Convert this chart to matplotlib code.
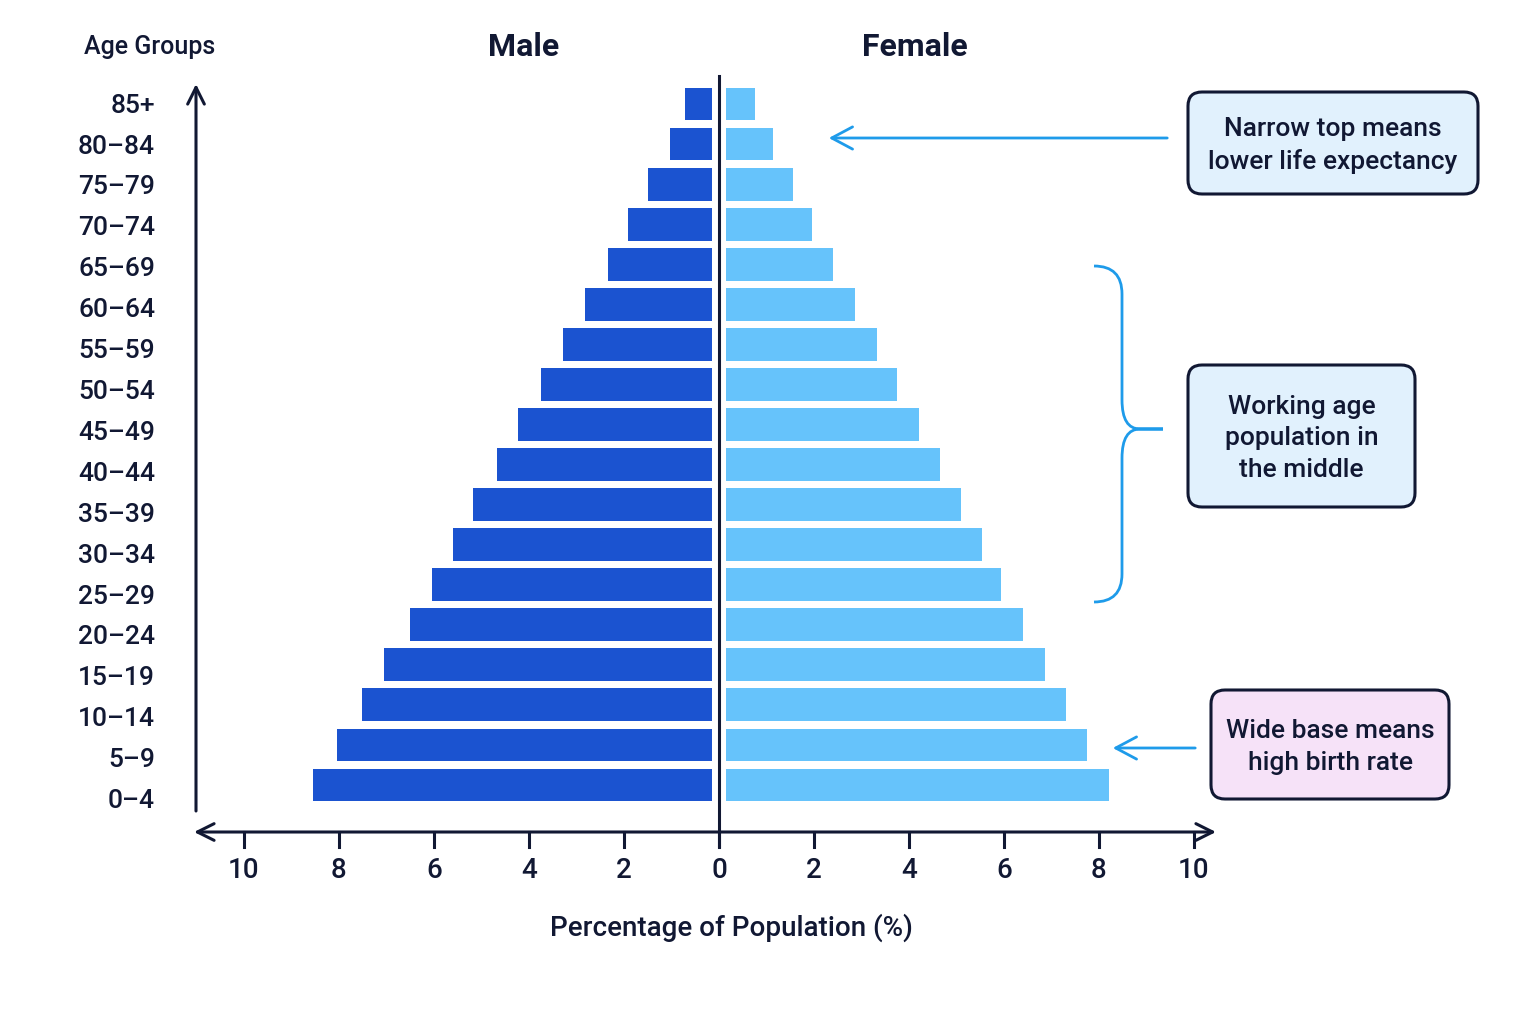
import numpy as np
import matplotlib.pyplot as plt
from matplotlib.patches import FancyBboxPatch, FancyArrowPatch, PathPatch
from matplotlib.path import Path
from matplotlib.transforms import Affine2D

plt.rcParams['font.family'] = ['Roboto', 'DejaVu Sans']
plt.rcParams['font.weight'] = 'medium'

ages = ["0-4", "5-9", "10-14", "15-19", "20-24", "25-29", "30-34", "35-39", "40-44",
        "45-49", "50-54", "55-59", "60-64", "65-69", "70-74", "75-79", "80-84", "85+"]
male = [8.55, 8.05, 7.52, 7.06, 6.51, 6.05, 5.61, 5.17, 4.68,
        4.24, 3.74, 3.28, 2.82, 2.33, 1.91, 1.49, 1.03, 0.71]
female = [8.21, 7.75, 7.31, 6.86, 6.40, 5.94, 5.54, 5.09, 4.65,
          4.21, 3.75, 3.33, 2.86, 2.40, 1.96, 1.56, 1.14, 0.76]
xticks = [-10, -8, -6, -4, -2, 0, 2, 4, 6, 8, 10]

navy = "#111833"
male_c = "#1B53D0"
female_c = "#66C3FB"
accent = "#1E9BEA"

W, H = 1536, 1024
fig = plt.figure(figsize=(W / 100, H / 100), dpi=100)
ax = fig.add_axes([0, 0, 1, 1])

# pixel layout of the data space
x0, sx = 719, 47.5      # x=0 pixel, pixels per percent
y0, sy = 785, 40.06     # row 0 pixel (from top), pixels per row
ax.set_xlim(-x0 / sx, (W - x0) / sx)
ax.set_ylim((y0 - H) / sy, y0 / sy)
ax.axis("off")

# helper transform: pixel coords measured from the top-left corner
px = Affine2D().scale(1 / W, -1 / H).translate(0, 1) + fig.transFigure

def dx(p):
    return (p - x0) / sx

def dy(p):
    return (y0 - p) / sy

gap = 0.14
y = np.arange(len(ages))
ax.barh(y, -(np.array(male) - gap), left=-gap, height=0.82, color=male_c)
ax.barh(y, np.array(female) - gap, left=gap, height=0.82, color=female_c)

# centre line
ax.plot([0, 0], [dy(846), dy(76)], color=navy, lw=2.2, clip_on=False)

# y axis arrow
ax.annotate("", xy=(dx(196), dy(84)), xytext=(dx(196), dy(811)),
            arrowprops=dict(arrowstyle="->,head_length=0.6,head_width=0.3",
                            color=navy, lw=2.2, mutation_scale=20, shrinkA=0, shrinkB=0))
# x axis double arrow
ax.annotate("", xy=(dx(194), dy(832)), xytext=(dx(1216), dy(832)),
            arrowprops=dict(arrowstyle="<->,head_length=0.6,head_width=0.3",
                            color=navy, lw=2.2, mutation_scale=20, shrinkA=0, shrinkB=0))
for t in xticks:
    ax.plot([t, t], [dy(832), dy(847)], color=navy, lw=2.2, clip_on=False)
    ax.text(t, dy(871), str(abs(t)), ha="center", va="center", fontsize=20, color=navy)

# age labels sit on a slightly wider pitch than the bars, as in the original
for i, lab in enumerate(ages):
    ypix = 801 - 40.9 * i
    ax.text(dx(155), dy(ypix), lab.replace("-", "\u2013"), ha="right", va="center",
            fontsize=19, color=navy)

fig.text(150, 47, "Age Groups", transform=px, ha="center", va="center", fontsize=18, color=navy)
fig.text(524, 47, "Male", transform=px, ha="center", va="center", fontsize=23,
         fontweight="semibold", color=navy)
fig.text(915, 47, "Female", transform=px, ha="center", va="center", fontsize=23,
         fontweight="semibold", color=navy)
fig.text(731, 928, "Percentage of Population (%)", transform=px, ha="center", va="center",
         fontsize=20, color=navy)

# annotation boxes
boxes = [
    (1188, 92, 1478, 194, "#E1F1FD", "Narrow top means\nlower life expectancy"),
    (1188, 365, 1415, 507, "#E1F1FD", "Working age\npopulation in\nthe middle"),
    (1211, 690, 1449, 799, "#F6E2F8", "Wide base means\nhigh birth rate"),
]
for l, t, r, b, fc, txt in boxes:
    fig.patches.append(FancyBboxPatch((l, t), r - l, b - t, transform=px,
                                      boxstyle="round,pad=0,rounding_size=14",
                                      fc=fc, ec=navy, lw=2.2))
    fig.text((l + r) / 2, (t + b) / 2 + 2.5, txt, transform=px, ha="center", va="center",
             fontsize=19, color=navy, linespacing=1.4)

# arrows to the pyramid
for xa, xb, ya in [(1170, 826, 138), (1198, 1110, 748)]:
    fig.patches.append(FancyArrowPatch((xa, ya), (xb, ya), transform=px,
                                       arrowstyle="->,head_length=0.75,head_width=0.4",
                                       mutation_scale=20, color=accent, lw=2))

# brace for the working age group
verts = [(1094, 266), (1122, 266), (1122, 294), (1122, 294),
         (1122, 400), (1122, 400),
         (1122, 429), (1140, 429), (1163, 429),
         (1140, 429), (1122, 429), (1122, 458),
         (1122, 574), (1122, 574),
         (1122, 602), (1094, 602)]
codes = [Path.MOVETO, Path.CURVE3, Path.CURVE3, Path.LINETO,
         Path.LINETO, Path.LINETO,
         Path.CURVE3, Path.CURVE3, Path.LINETO,
         Path.LINETO, Path.CURVE3, Path.CURVE3,
         Path.LINETO, Path.LINETO,
         Path.CURVE3, Path.CURVE3]
fig.patches.append(PathPatch(Path(verts, codes), transform=px, fc="none", ec=accent, lw=2))

fig.savefig("out.png", dpi=100, facecolor="white")
